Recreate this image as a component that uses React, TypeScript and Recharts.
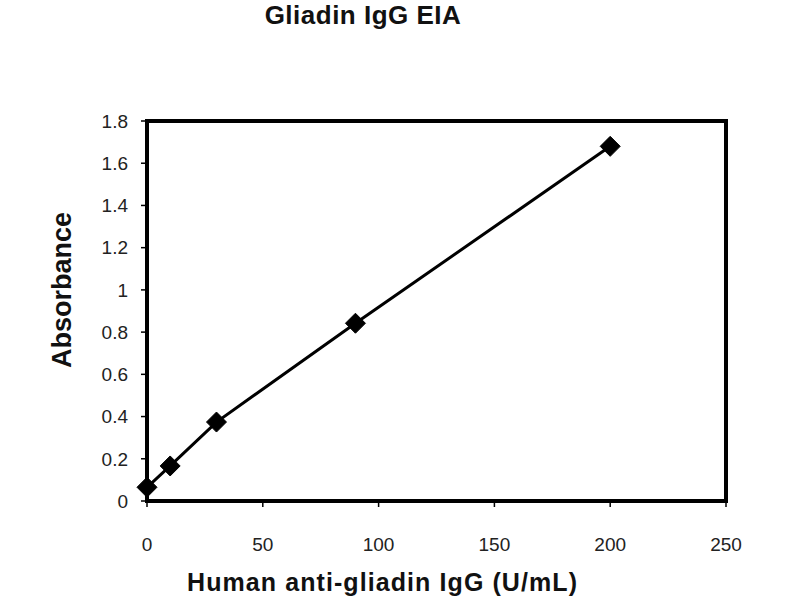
import React from "react";
import { LineChart, Line, XAxis, YAxis, ReferenceArea, Label } from "recharts";

const concentration = [0, 10, 30, 90, 200];
const absorbance = [0.065, 0.166, 0.374, 0.842, 1.68];
const xTicks = [0, 50, 100, 150, 200, 250];
const yTicks = [0, 0.2, 0.4, 0.6, 0.8, 1, 1.2, 1.4, 1.6, 1.8];

const data = concentration.map((c, i) => ({ x: c, y: absorbance[i] }));

const FONT = "'Liberation Sans', Arial, Helvetica, sans-serif";

const Diamond = (props: any) => {
  const { cx, cy } = props;
  if (cx == null || cy == null) return null;
  const r = 10;
  return (
    <polygon
      points={`${cx},${cy - r} ${cx + r},${cy} ${cx},${cy + r} ${cx - r},${cy}`}
      fill="#000"
      stroke="#000"
    />
  );
};

const fmt = (v: number) => String(Number(v.toFixed(1)));

export default function App() {
  return (
    <div style={{ position: "absolute", left: 0, top: 0, width: 800, height: 600, background: "#fff" }}>
      <div
        style={{
          position: "absolute",
          left: 0,
          width: 726,
          top: 0,
          textAlign: "center",
          fontFamily: FONT,
          fontWeight: "bold",
          fontSize: 26,
          letterSpacing: 0.5,
          color: "#111",
          lineHeight: "30px",
        }}
      >
        Gliadin IgG EIA
      </div>
      <LineChart
        width={800}
        height={600}
        data={data}
        margin={{ top: 121, right: 74, bottom: 0, left: 67 }}
      >
        <XAxis
          type="number"
          dataKey="x"
          domain={[0, 250]}
          ticks={xTicks}
          tickSize={6}
          tickMargin={31}
          height={99}
          axisLine={{ stroke: "#000", strokeWidth: 4 }}
          tickLine={{ stroke: "#000", strokeWidth: 1.5 }}
          tick={{ fill: "#222", fontSize: 19, fontFamily: FONT }}
          interval={0}
        >
          <Label
            content={() => (
              <text
                x={382}
                y={591}
                textAnchor="middle"
                fontFamily={FONT}
                fontWeight="bold"
                fontSize={25}
                textLength={390}
                lengthAdjust="spacing"
                fill="#111"
              >
                Human anti-gliadin IgG (U/mL)
              </text>
            )}
          />
        </XAxis>
        <YAxis
          type="number"
          domain={[0, 1.8]}
          ticks={yTicks}
          tickFormatter={fmt}
          width={80}
          tickSize={6}
          tickMargin={13}
          axisLine={{ stroke: "#000", strokeWidth: 4 }}
          tickLine={{ stroke: "#000", strokeWidth: 1.5 }}
          tick={{ fill: "#222", fontSize: 19, fontFamily: FONT }}
          interval={0}
        >
          <Label
            content={() => (
              <text
                x={71}
                y={290}
                transform="rotate(-90 71 290)"
                textAnchor="middle"
                fontFamily={FONT}
                fontWeight="bold"
                fontSize={27}
                fill="#111"
              >
                Absorbance
              </text>
            )}
          />
        </YAxis>
        <ReferenceArea
          x1={0}
          x2={250}
          y1={0}
          y2={1.8}
          fill="none"
          stroke="#000"
          strokeWidth={4}
          fillOpacity={0}
        />
        <Line
          type="linear"
          dataKey="y"
          stroke="#000"
          strokeWidth={3}
          dot={<Diamond />}
          activeDot={false}
          isAnimationActive={false}
        />
      </LineChart>
    </div>
  );
}
